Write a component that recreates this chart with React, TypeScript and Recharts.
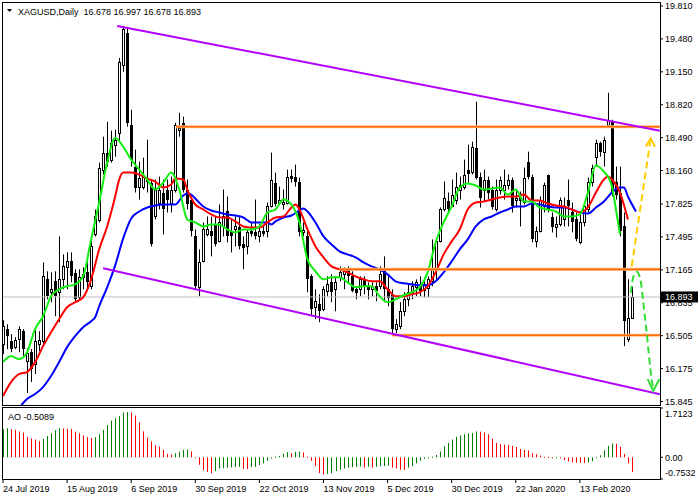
import React from 'react';
import { ComposedChart, Bar, Line, XAxis, YAxis, ReferenceLine } from 'recharts';

// daily bars, index 0 = 24 Jul 2019
const opens = [
  16.42, 16.57, 16.45, 16.39, 16.47, 16.55, 16.25, 16.34, 16.22, 16.42,
  16.45, 17.07, 16.94, 17.05, 16.94, 17.07, 17.19, 17.25, 17.13, 16.89,
  17.12, 17.14, 17.0, 17.52, 17.66, 18.17, 18.34, 18.27, 18.42, 18.54,
  19.22, 19.54, 18.62, 18.2, 18.0, 18.0, 18.07, 18.04, 17.7, 17.84,
  17.94, 17.97, 17.84, 17.97, 18.57, 18.64, 17.97, 17.87, 17.5, 16.99,
  17.25, 17.52, 17.55, 17.62, 17.45, 17.6, 17.75, 17.55, 17.57, 17.59,
  17.42, 17.4, 17.55, 17.54, 17.5, 17.55, 17.55, 17.8, 18.04, 17.84,
  17.82, 17.84, 18.11, 18.1, 18.05, 17.54, 17.5, 17.1, 16.79, 16.82,
  16.77, 16.95, 17.04, 16.97, 17.09, 17.12, 17.17, 17.1, 16.97, 16.97,
  17.07, 17.0, 16.97, 17.0, 17.0, 17.15, 16.97, 16.92, 16.57, 16.6,
  16.75, 16.87, 16.94, 16.99, 17.01, 16.96, 16.98, 17.05, 17.17, 17.45,
  17.77, 17.86, 17.8, 17.87, 17.97, 18.0, 18.17, 18.15, 18.39, 18.1,
  17.97, 18.07, 17.97, 17.77, 17.97, 17.97, 18.02, 18.07, 17.87, 17.9,
  17.85, 18.25, 18.1, 17.45, 17.55, 17.8, 18.12, 17.69, 17.59, 17.62,
  17.67, 17.87, 17.74, 17.67, 17.44, 17.64, 17.77, 18.05, 18.3, 18.44,
  18.35, 18.62, 18.65, 18.05, 17.94, 17.6, 16.47, 16.678,
];
const highs = [
  16.66, 16.62, 16.52, 16.49, 16.6, 16.57, 16.38, 16.37, 16.57, 16.55,
  17.24, 17.15, 17.14, 17.15, 17.5, 17.32, 17.34, 17.34, 17.17, 17.17,
  17.19, 17.24, 17.47, 17.77, 18.24, 18.5, 18.65, 18.56, 18.57, 19.29,
  19.61, 19.59, 18.77, 18.37, 18.25, 18.29, 18.47, 18.07, 18.07, 18.1,
  18.07, 18.07, 18.1, 18.64, 18.74, 18.7, 18.07, 17.9, 17.57, 17.37,
  17.64, 17.7, 17.7, 17.7, 17.82, 17.97, 17.9, 17.67, 17.7, 17.7,
  17.5, 17.57, 17.64, 17.87, 17.62, 17.6, 17.84, 18.34, 18.14, 18.0,
  17.97, 18.17, 18.17, 18.22, 18.09, 17.64, 17.57, 17.12, 16.97, 16.92,
  17.0, 17.1, 17.12, 17.1, 17.2, 17.19, 17.2, 17.15, 17.0, 17.1,
  17.1, 17.04, 17.04, 17.04, 17.2, 17.3, 17.1, 16.97, 16.67, 16.84,
  16.94, 17.02, 17.05, 17.07, 17.1, 17.07, 17.1, 17.47, 17.47, 17.79,
  18.05, 17.94, 18.07, 18.14, 18.1, 18.27, 18.42, 18.45, 18.85, 18.14,
  18.17, 18.1, 18.0, 18.07, 18.1, 18.17, 18.12, 18.09, 17.97, 17.95,
  18.19, 18.35, 18.12, 17.6, 17.9, 18.04, 18.12, 17.74, 17.7, 17.89,
  17.89, 18.07, 17.84, 17.74, 17.74, 17.82, 18.09, 18.22, 18.47, 18.45,
  18.5, 18.94, 18.67, 18.2, 18.2, 17.74, 17.07, 16.997,
];
const lows = [
  16.32, 16.37, 16.34, 16.37, 16.34, 16.3, 15.93, 16.04, 16.12, 16.35,
  16.4, 16.87, 16.84, 16.7, 16.64, 16.97, 16.97, 17.04, 16.84, 16.87,
  16.97, 16.97, 16.97, 17.5, 17.64, 18.12, 18.2, 18.24, 18.3, 18.45,
  19.15, 18.6, 18.2, 17.94, 17.87, 17.97, 17.94, 17.4, 17.67, 17.77,
  17.52, 17.74, 17.74, 17.94, 18.5, 17.94, 17.77, 17.5, 16.97, 16.9,
  17.24, 17.5, 17.3, 17.4, 17.44, 17.5, 17.44, 17.34, 17.4, 17.37,
  17.17, 17.32, 17.5, 17.47, 17.44, 17.5, 17.49, 17.79, 17.8, 17.82,
  17.77, 17.82, 18.04, 18.0, 17.5, 17.5, 16.94, 16.7, 16.67, 16.64,
  16.75, 16.9, 16.84, 16.75, 17.05, 16.97, 17.04, 16.94, 16.87, 16.9,
  16.92, 16.87, 16.9, 16.85, 16.97, 16.84, 16.8, 16.53, 16.53, 16.57,
  16.7, 16.8, 16.87, 16.9, 16.9, 16.89, 16.89, 17.0, 17.07, 17.44,
  17.75, 17.74, 17.8, 17.82, 17.87, 17.97, 18.04, 18.12, 18.07, 17.79,
  17.85, 17.87, 17.77, 17.75, 17.92, 17.87, 17.97, 17.74, 17.79, 17.6,
  17.82, 18.07, 17.44, 17.39, 17.54, 17.74, 17.74, 17.54, 17.49, 17.6,
  17.6, 17.6, 17.54, 17.45, 17.42, 17.6, 17.74, 18.0, 18.2, 18.3,
  18.2, 18.6, 17.9, 17.87, 17.5, 16.4, 16.44, 16.678,
];
const closes = [
  16.6, 16.5, 16.37, 16.46, 16.57, 16.37, 16.33, 16.17, 16.45, 16.46,
  17.1, 16.9, 16.97, 16.9, 17.07, 17.2, 17.25, 17.1, 16.87, 17.09,
  17.08, 17.04, 17.4, 17.7, 18.19, 18.34, 18.25, 18.44, 18.47, 19.25,
  19.58, 18.64, 18.27, 17.99, 18.09, 18.1, 18.05, 17.42, 17.97, 17.97,
  17.77, 17.87, 17.97, 18.62, 18.59, 17.97, 17.82, 17.55, 17.0, 17.24,
  17.57, 17.57, 17.5, 17.42, 17.64, 17.7, 17.5, 17.5, 17.6, 17.4,
  17.38, 17.54, 17.52, 17.5, 17.55, 17.52, 17.8, 18.07, 17.82, 17.87,
  17.85, 18.1, 18.08, 18.05, 17.54, 17.56, 17.07, 16.77, 16.85, 16.75,
  16.97, 17.02, 16.94, 17.04, 17.14, 17.17, 17.1, 16.95, 16.93, 17.07,
  17.0, 16.96, 17.0, 16.95, 17.12, 16.97, 16.88, 16.57, 16.62, 16.75,
  16.87, 16.94, 17.0, 17.04, 16.95, 17.02, 17.07, 17.17, 17.45, 17.77,
  17.89, 17.77, 17.92, 18.0, 18.02, 18.12, 18.13, 18.4, 18.09, 17.89,
  18.07, 17.94, 17.79, 17.97, 18.07, 18.02, 18.07, 17.8, 17.89, 17.86,
  18.09, 18.1, 17.47, 17.55, 17.87, 18.02, 17.77, 17.59, 17.62, 17.87,
  17.8, 17.8, 17.64, 17.47, 17.64, 17.8, 18.05, 18.19, 18.44, 18.35,
  18.47, 18.67, 17.94, 17.92, 17.55, 16.65, 16.68, 16.893,
];

// Awesome Oscillator histogram
const aoValues = [
  0.98, 1.01, 0.98, 0.95, 0.9, 0.86, 0.71, 0.65, 0.62, 0.56,
  0.64, 0.74, 0.83, 0.94, 1.01, 1.0, 0.99, 0.98, 0.89, 0.83,
  0.76, 0.7, 0.67, 0.7, 0.8, 0.95, 1.12, 1.27, 1.36, 1.43,
  1.55, 1.57, 1.55, 1.45, 1.21, 0.9, 0.69, 0.55, 0.42, 0.37,
  0.26, 0.12, 0.1, 0.14, 0.19, 0.26, 0.27, 0.2, -0.01, -0.26,
  -0.45, -0.51, -0.55, -0.48, -0.39, -0.38, -0.36, -0.35, -0.34, -0.33,
  -0.4, -0.41, -0.34, -0.33, -0.27, -0.21, -0.12, -0.04, 0.02, 0.05,
  0.12, 0.18, 0.14, 0.19, 0.2, 0.17, 0.02, -0.12, -0.31, -0.55,
  -0.6, -0.58, -0.55, -0.48, -0.43, -0.39, -0.36, -0.34, -0.33, -0.32,
  -0.36, -0.33, -0.36, -0.33, -0.31, -0.3, -0.29, -0.36, -0.39, -0.43,
  -0.44, -0.36, -0.3, -0.21, -0.12, -0.05, -0.02, 0.02, 0.08, 0.2,
  0.38, 0.5, 0.62, 0.71, 0.76, 0.8, 0.83, 0.84, 0.9, 0.89,
  0.86, 0.8, 0.65, 0.5, 0.46, 0.44, 0.43, 0.4, 0.36, 0.29,
  0.26, 0.24, 0.14, 0.11, 0.06, 0.02, 0.01, -0.02, -0.01, -0.03,
  -0.1, -0.14, -0.18, -0.19, -0.195, -0.2, -0.17, -0.14, -0.02, 0.07,
  0.24, 0.4, 0.48, 0.47, 0.36, 0.12, -0.21, -0.5089,
];

// alligator-style moving averages, [bar index, price]
const lipsPts = [
  [0, 16.24], [2, 16.3], [4, 16.27], [6, 16.34], [8, 16.57], [10, 16.7], [12, 16.9], [14, 16.97],
  [16, 17.0], [18, 17.02], [20, 17.1], [22, 17.47], [24, 17.84], [26, 18.24], [28, 18.49], [30, 18.4],
  [32, 18.27], [34, 18.17], [36, 18.07], [38, 17.97], [40, 18.04], [42, 18.14], [44, 17.97], [46, 17.67],
  [48, 17.64], [50, 17.6], [52, 17.62], [54, 17.62], [56, 17.57], [58, 17.54], [60, 17.57], [62, 17.57],
  [64, 17.6], [66, 17.74], [68, 17.77], [70, 17.87], [72, 17.82], [74, 17.64], [76, 17.27], [78, 17.15],
  [80, 17.07], [82, 17.09], [84, 17.09], [86, 17.04], [88, 16.99], [90, 17.0], [92, 17.0], [94, 16.9],
  [96, 16.84], [98, 16.87], [100, 16.91], [102, 16.94], [104, 16.99], [106, 17.14], [108, 17.44], [110, 17.64],
  [112, 17.8], [114, 17.99], [116, 18.03], [118, 18.01], [120, 17.97], [122, 17.98], [124, 17.99], [126, 17.92],
  [128, 17.97], [130, 17.85], [132, 17.85], [134, 17.79], [136, 17.77], [138, 17.75], [140, 17.7], [142, 17.7],
  [144, 17.72], [146, 17.94], [148, 18.21], [150, 18.15], [151, 18.1], [152, 18.0], [153, 17.77], [154, 17.52],
];
const teethPts = [
  [0, 15.9], [2, 16.04], [4, 16.12], [6, 16.14], [8, 16.24], [10, 16.4], [12, 16.54], [14, 16.67],
  [16, 16.79], [18, 16.84], [20, 16.89], [22, 17.07], [24, 17.37], [26, 17.6], [28, 17.9], [29, 18.07],
  [30, 18.14], [32, 18.14], [34, 18.12], [36, 18.08], [38, 18.05], [40, 17.99], [42, 18.02], [43, 18.08],
  [45, 18.07], [46, 17.97], [48, 17.82], [50, 17.77], [52, 17.72], [54, 17.69], [56, 17.69], [58, 17.65],
  [60, 17.6], [62, 17.59], [64, 17.59], [66, 17.64], [68, 17.69], [70, 17.7], [72, 17.79], [73, 17.82],
  [74, 17.77], [76, 17.57], [78, 17.4], [80, 17.29], [82, 17.2], [84, 17.17], [86, 17.14], [88, 17.1],
  [90, 17.07], [92, 17.05], [94, 17.05], [96, 16.97], [98, 16.9], [100, 16.9], [102, 16.92], [104, 16.94],
  [106, 17.0], [108, 17.14], [110, 17.32], [112, 17.45], [114, 17.57], [116, 17.77], [118, 17.84], [120, 17.85],
  [122, 17.87], [124, 17.89], [126, 17.9], [128, 17.9], [130, 17.92], [132, 17.86], [134, 17.86], [136, 17.83],
  [138, 17.81], [140, 17.8], [142, 17.77], [144, 17.74], [146, 17.79], [148, 17.94], [150, 18.07], [151, 18.1],
  [152, 18.07], [154, 17.94], [156, 17.67],
];
const jawPts = [
  [4, 15.78], [6, 15.87], [8, 15.92], [10, 15.99], [12, 16.1], [14, 16.24], [16, 16.39], [18, 16.5],
  [20, 16.59], [22, 16.65], [23, 16.69], [24, 16.8], [26, 16.99], [28, 17.21], [30, 17.48], [32, 17.68],
  [34, 17.75], [36, 17.79], [38, 17.81], [40, 17.82], [43, 17.82], [45, 17.91], [46, 17.93], [47, 17.92],
  [48, 17.88], [50, 17.8], [52, 17.76], [54, 17.74], [56, 17.72], [58, 17.71], [60, 17.69], [62, 17.64],
  [64, 17.64], [66, 17.64], [67, 17.62], [68, 17.65], [70, 17.69], [72, 17.71], [74, 17.76], [75, 17.78],
  [76, 17.75], [78, 17.64], [80, 17.5], [82, 17.42], [84, 17.35], [86, 17.32], [88, 17.29], [90, 17.24],
  [92, 17.2], [94, 17.17], [96, 17.12], [98, 17.05], [100, 17.03], [102, 17.02], [104, 17.01], [106, 17.01],
  [108, 17.05], [110, 17.14], [112, 17.25], [114, 17.37], [116, 17.47], [118, 17.6], [120, 17.67], [122, 17.7],
  [124, 17.74], [126, 17.77], [128, 17.8], [130, 17.8], [132, 17.83], [134, 17.82], [136, 17.8], [138, 17.79],
  [140, 17.79], [142, 17.77], [144, 17.74], [146, 17.73], [148, 17.79], [150, 17.85], [152, 17.94], [154, 17.99],
  [155, 17.99], [156, 17.9], [158, 17.75],
];

// drawn objects
const levels = [18.6, 17.17, 16.51];
const levelFrom = [43.2, 84, 97.2];
const channelTop = [[28.5, 19.61], [164, 18.56]];
const channelBottom = [[25, 17.18], [164, 15.917]];
const upArrow = [[156.94, 17.2], [161.68, 18.483]];
const upArrowHead = [[160.43, 18.399], [161.68, 18.483], [162.75, 18.399]];
const downArrow = [
  [156.69, 16.933], [157.27, 17.083], [158.19, 17.146], [159.14, 17.063],
  [159.76, 16.863], [160.68, 16.532], [161.88, 16.081], [162.33, 15.97],
];
const downArrowHead = [[160.93, 16.07], [162.33, 15.95], [163.83, 16.07]];

const priceTicks = [19.81, 19.48, 19.15, 18.82, 18.49, 18.16, 17.825, 17.495, 17.165, 16.835, 16.505, 16.175, 15.845, 16.893];
const aoTicks = [1.7123, 0, -0.7532];
const dateIdx = [0, 16, 32, 48, 64, 80, 96, 112, 128, 144];
const dateLabels = ['24 Jul 2019', '15 Aug 2019', '6 Sep 2019', '30 Sep 2019', '22 Oct 2019', '13 Nov 2019', '5 Dec 2019', '30 Dec 2019', '22 Jan 2020', '13 Feb 2020'];

const lastClose = closes[closes.length - 1];
const xDomain = [-0.25, 164];

const candles = opens.map((o, i) => ({ i, o, h: highs[i], l: lows[i], c: closes[i] }));
const aoData = aoValues.map((v, i) => ({ i, v, up: i === 0 || v > aoValues[i - 1] }));
const toPts = (arr: number[][]) => arr.map(([i, v]) => ({ i, v }));

const Candle = (props: any) => {
  const { x, y, width, height, payload } = props;
  if (!payload || height == null) return null;
  const { o, h, l, c } = payload;
  const top = Math.min(y, y + height);
  const span = Math.abs(height);
  const py = (v: number) => top + ((h - v) / (h - l)) * span;
  const cx = Math.round(x + width / 2) + 0.5;
  const b1 = Math.round(Math.min(py(o), py(c)));
  const b2 = Math.round(Math.max(py(o), py(c)));
  const up = c >= o;
  return (
    <g>
      <line x1={cx} x2={cx} y1={top} y2={top + span} stroke="#000" strokeWidth={1} />
      {up ? (
        <rect x={cx - 1} y={b1 + 0.5} width={2} height={Math.max(b2 - b1, 1)} fill="#fff" stroke="#000" strokeWidth={1} />
      ) : (
        <rect x={cx - 1.5} y={b1} width={3} height={Math.max(b2 - b1, 1)} fill="#000" />
      )}
    </g>
  );
};

const AoBar = (props: any) => {
  const { x, y, width, height, payload } = props;
  if (!payload || height == null) return null;
  const top = Math.min(y, y + height);
  const hh = Math.max(Math.abs(height), 1);
  return <rect x={Math.floor(x + width / 2)} y={top} width={1} height={hh} fill={payload.up ? '#008000' : '#ff0000'} />;
};

const PriceTick = ({ x, y, payload }: any) => {
  const v = payload.value;
  const isLast = v === lastClose;
  return (
    <g>
      {isLast && <rect x={x - 4} y={y - 5.5} width={37} height={11} fill="#000" />}
      <text x={x} y={y + 3.3} fontSize={9} fill={isLast ? '#fff' : '#000'}>{v.toFixed(3)}</text>
    </g>
  );
};

const AoTick = ({ x, y, payload }: any) => {
  const v = payload.value;
  const label = v === 0 ? '0.00' : v.toFixed(4);
  const dy = v === aoTicks[0] ? 6 : v === aoTicks[2] ? -6 : 0;
  return <text x={x} y={y + dy + 3.3} fontSize={9} fill="#000">{label}</text>;
};

const DateTick = ({ x, y, payload }: any) => {
  const k = dateIdx.indexOf(payload.value);
  return <text x={x} y={y + 9} fontSize={9} fill="#000">{dateLabels[k]}</text>;
};

const seg = (arr: number[][]) => arr.map(([x, y]) => ({ x, y }));

export default function App() {
  return (
    <div style={{ position: 'absolute', left: 0, top: 0, width: 700, height: 500, background: '#fff', fontFamily: '"Liberation Sans", Arial, sans-serif' }}>
      <div style={{ position: 'absolute', left: 0, top: 0 }}>
        <ComposedChart width={700} height={406} data={candles} margin={{ top: 2, right: 0, bottom: 0, left: 2 }}>
          <XAxis type="number" dataKey="i" domain={xDomain} allowDataOverflow hide />
          <YAxis
            orientation="right"
            type="number"
            width={40}
            domain={[15.8, 19.85]}
            allowDataOverflow
            ticks={priceTicks}
            interval={0}
            tick={<PriceTick />}
            tickSize={3}
            tickMargin={2}
            tickLine={{ stroke: '#000' }}
            axisLine={false}
          />
          <ReferenceLine y={lastClose} stroke="#c0c0c0" strokeWidth={1} />
          <Bar dataKey={(d: any) => [d.l, d.h]} barSize={3} shape={<Candle />} isAnimationActive={false} />
          <Line data={toPts(jawPts)} dataKey="v" type="monotone" stroke="#0000ff" strokeWidth={2} dot={false} isAnimationActive={false} />
          <Line data={toPts(teethPts)} dataKey="v" type="monotone" stroke="#ff0000" strokeWidth={2} dot={false} isAnimationActive={false} />
          <Line data={toPts(lipsPts)} dataKey="v" type="monotone" stroke="#11ee11" strokeWidth={2} dot={false} isAnimationActive={false} />
          {levels.map((lv, k) => (
            <ReferenceLine key={'lvb' + k} segment={[{ x: levelFrom[k], y: lv }, { x: 164, y: lv }]} stroke="#ffbe8c" strokeWidth={3} ifOverflow="hidden" />
          ))}
          {levels.map((lv, k) => (
            <ReferenceLine key={'lv' + k} segment={[{ x: levelFrom[k], y: lv }, { x: 164, y: lv }]} stroke="#ff6a00" strokeWidth={1.6} ifOverflow="hidden" />
          ))}
          <ReferenceLine segment={seg(channelTop)} stroke="#b300ff" strokeWidth={2} ifOverflow="hidden" />
          <ReferenceLine segment={seg(channelBottom)} stroke="#b300ff" strokeWidth={2} ifOverflow="hidden" />
          <Line data={toPts(upArrow)} dataKey="v" type="linear" stroke="#ffcc00" strokeWidth={2} strokeDasharray="7 4" dot={false} isAnimationActive={false} />
          <Line data={toPts(upArrowHead)} dataKey="v" type="linear" stroke="#ffcc00" strokeWidth={2} dot={false} isAnimationActive={false} />
          <Line data={toPts(downArrow)} dataKey="v" type="monotone" stroke="#33dd33" strokeWidth={2} strokeDasharray="7 4" dot={false} isAnimationActive={false} />
          <Line data={toPts(downArrowHead)} dataKey="v" type="linear" stroke="#33dd33" strokeWidth={2} dot={false} isAnimationActive={false} />
        </ComposedChart>
      </div>
      <div style={{ position: 'absolute', left: 0, top: 406 }}>
        <ComposedChart width={700} height={94} data={aoData} margin={{ top: 2, right: 0, bottom: 0, left: 2 }}>
          <XAxis
            type="number"
            dataKey="i"
            domain={xDomain}
            allowDataOverflow
            ticks={dateIdx}
            interval={0}
            tick={<DateTick />}
            height={21}
            tickSize={4}
            tickMargin={0}
            tickLine={{ stroke: '#000' }}
            axisLine={false}
          />
          <YAxis
            orientation="right"
            type="number"
            width={40}
            domain={[aoTicks[2], aoTicks[0]]}
            allowDataOverflow
            ticks={aoTicks}
            interval={0}
            tick={<AoTick />}
            tickSize={3}
            tickMargin={2}
            tickLine={{ stroke: '#000' }}
            axisLine={false}
          />
          <Bar dataKey="v" barSize={1} shape={<AoBar />} isAnimationActive={false} />
        </ComposedChart>
      </div>
      <svg width={700} height={500} style={{ position: 'absolute', left: 0, top: 0, pointerEvents: 'none' }}>
        <rect x={2.5} y={2.5} width={658} height={403} fill="none" stroke="#000" strokeWidth={1} />
        <rect x={2.5} y={407.5} width={658} height={72} fill="none" stroke="#000" strokeWidth={1} />
        <polygon points="7,9 12,9 9.5,12" fill="#000" />
        <text x={18} y={15} fontSize={9} fill="#000" style={{ whiteSpace: 'pre' }}>XAGUSD,Daily  16.678 16.997 16.678 16.893</text>
        <text x={8} y={420} fontSize={9} fill="#000">AO -0.5089</text>
      </svg>
    </div>
  );
}
